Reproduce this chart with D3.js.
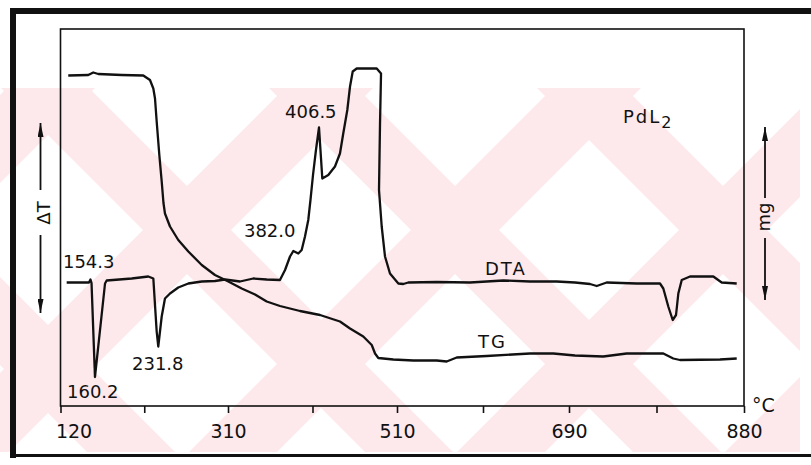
<!DOCTYPE html>
<html>
<head>
<meta charset="utf-8">
<script src="https://cdn.jsdelivr.net/npm/d3@7.9.0/dist/d3.min.js"></script>
<style>
  html, body { margin: 0; padding: 0; background: #fff; }
  svg { display: block; font-family: "DejaVu Sans", sans-serif; }
</style>
</head>
<body>
<div id="plot-container"></div>
<script>
// temperature axis (°C)
const majorTicks = [120, 310, 510, 690, 880];
const minorTicks = [215, 410, 600, 785];

// DTA trace (temperature °C, ΔT in arbitrary units)
const dtaTemp = [127.0, 152.3, 154.0, 155.2, 159.1, 170.5, 172.4, 200.8, 219.6, 225.3,
  229.1, 230.9, 234.8, 238.5, 244.2, 253.6, 265.0, 280.2, 295.2, 306.6,
  324.2, 339.9, 355.8, 371.5, 377.5, 383.4, 387.3, 393.2, 397.2, 401.1,
  405.0, 407.6, 410.6, 414.1, 417.7, 421.6, 428.7, 436.6, 442.5, 446.4,
  451.2, 454.4, 457.6, 462.3, 486.0, 491.1, 489.9, 488.7, 491.9, 495.8,
  501.7, 511.4, 516.6, 521.8, 551.5, 586.4, 621.2, 649.2, 677.1, 696.5,
  712.8, 720.1, 730.9, 763.5, 788.8, 792.4, 797.8, 802.6, 806.2, 808.7,
  812.4, 821.4, 846.7, 855.8, 872.1];
const dtaSignal = [24.7, 24.7, 25.3, 24.6, 5.8, 24.5, 25.1, 25.5, 25.9, 25.5,
  14.9, 11.9, 17.9, 21.5, 22.5, 23.7, 24.5, 24.9, 25.0, 25.3,
  24.9, 25.5, 25.3, 25.2, 27.2, 29.9, 31.0, 30.5, 31.2, 33.9,
  37.2, 41.2, 46.2, 51.2, 55.7, 45.5, 46.2, 47.9, 50.5, 54.5,
  59.2, 63.9, 66.9, 67.5, 67.5, 66.5, 56.5, 43.2, 35.9, 29.9,
  26.5, 24.5, 24.4, 24.7, 24.8, 24.7, 25.1, 24.9, 24.9, 24.7,
  24.4, 24.0, 24.7, 24.5, 24.5, 23.5, 19.9, 17.2, 18.2, 22.5,
  25.2, 25.9, 25.9, 24.7, 24.5];

// TG trace (temperature °C, mass in arbitrary units)
const tgTemp = [128.8, 151.5, 157.2, 162.9, 189.4, 213.9, 221.5, 225.3, 227.2, 229.1,
  232.1, 234.8, 236.8, 238.5, 244.2, 253.6, 265.0, 280.2, 295.2, 310.4,
  326.2, 342.0, 355.8, 371.5, 395.2, 418.9, 442.5, 454.4, 470.1, 480.1,
  484.0, 487.9, 505.6, 527.1, 551.5, 562.0, 572.5, 603.9, 649.2, 673.6,
  696.5, 727.2, 752.6, 792.4, 803.2, 810.5, 853.9, 872.1];
const tgMass = [66.1, 66.2, 66.7, 66.4, 66.2, 66.1, 65.2, 63.5, 61.5, 56.9,
  50.2, 44.9, 40.6, 38.5, 35.9, 33.2, 30.9, 28.2, 26.2, 24.9,
  23.5, 22.3, 20.9, 20.0, 19.0, 18.2, 16.9, 15.5, 13.9, 12.2,
  10.5, 9.6, 9.3, 9.1, 9.1, 8.9, 9.7, 10.0, 10.5, 10.5,
  10.1, 9.9, 10.5, 10.5, 9.5, 9.2, 9.3, 9.5];

// annotations: peak temperatures written on the thermogram
const peakLabels = ["154.3", "160.2", "231.8", "382.0", "406.5"];
const peakLabelTemp = [122.8, 127.4, 201.1, 328.9, 377.5];
const peakLabelSignal = [27.6, 1.6, 7.2, 33.8, 57.6];

const curveLabels = ["DTA", "TG"];
const curveLabelTemp = [602.1, 594.8];
const curveLabelSignal = [26.2, 11.6];

function renderPlot() {
    const width = 811;
    const height = 465;

    const svg = d3.select('#plot-container')
        .append('svg')
        .attr('width', width)
        .attr('height', height);

    const plot = { left: 60.5, right: 744, top: 29, bottom: 406 };

    // watermark of the scanned page: light pink X shapes
    svg.append('clipPath').attr('id', 'wm-clip')
        .append('rect').attr('x', 0).attr('y', 88).attr('width', 800).attr('height', 364);
    const wm = svg.append('g').attr('clip-path', 'url(#wm-clip)').attr('fill', '#fde8ec');
    const y0 = 88, y1 = 452, hw = 44, cy = 230;
    [-91, 187, 455, 723, 991].forEach(cx => {
        const a = cx - cy, b = cx + cy;
        wm.append('polygon')
            .attr('points', [[a + y0 - hw, y0], [a + y0 + hw, y0], [a + y1 + hw, y1], [a + y1 - hw, y1]].join(' '));
        wm.append('polygon')
            .attr('points', [[b - y0 - hw, y0], [b - y0 + hw, y0], [b - y1 + hw, y1], [b - y1 - hw, y1]].join(' '));
    });

    // outer border of the figure
    svg.append('rect').attr('x', 10).attr('y', 8).attr('width', 801).attr('height', 6).attr('fill', '#111');
    svg.append('rect').attr('x', 10).attr('y', 8).attr('width', 6).attr('height', 450).attr('fill', '#111');
    svg.append('rect').attr('x', 10).attr('y', 454).attr('width', 801).attr('height', 3).attr('fill', '#111');

    // scales: the printed temperature ticks are evenly spaced, so piecewise linear
    const xScale = d3.scaleLinear()
        .domain(majorTicks)
        .range([plot.left, 228, 397, 569, plot.right]);

    const yScale = d3.scaleLinear()
        .domain([0, 75.4])
        .range([plot.bottom, plot.top]);

    // frame
    svg.append('rect')
        .attr('x', plot.left)
        .attr('y', plot.top)
        .attr('width', plot.right - plot.left)
        .attr('height', plot.bottom - plot.top)
        .attr('fill', 'none')
        .attr('stroke', '#111')
        .attr('stroke-width', 1.6);

    // x axis
    const allTicks = majorTicks.concat(minorTicks).sort((a, b) => a - b);
    const xAxis = d3.axisBottom(xScale)
        .tickValues(allTicks)
        .tickSize(7)
        .tickFormat(d => majorTicks.includes(d) ? d : '');

    const axisG = svg.append('g')
        .attr('transform', `translate(0, ${plot.bottom})`)
        .call(xAxis);
    axisG.select('.domain').remove();
    axisG.selectAll('line').attr('stroke', '#111').attr('stroke-width', 1.6);
    axisG.selectAll('text')
        .attr('fill', '#111')
        .attr('font-family', '"DejaVu Sans", sans-serif')
        .attr('font-size', 19)
        .attr('y', 32)
        .attr('dy', 0)
        .attr('dx', d => d === 120 ? 13 : 0);

    // °C unit
    svg.append('text')
        .attr('x', plot.right + 8)
        .attr('y', 412)
        .attr('font-size', 19)
        .attr('fill', '#111')
        .text('°C');

    // curves
    const line = (tArr, vArr) => d3.line()
        .x(i => xScale(tArr[i]))
        .y(i => yScale(vArr[i]))(d3.range(tArr.length));

    svg.append('path')
        .attr('d', line(dtaTemp, dtaSignal))
        .attr('fill', 'none')
        .attr('stroke', '#111')
        .attr('stroke-width', 2.3)
        .attr('stroke-linejoin', 'round');

    svg.append('path')
        .attr('d', line(tgTemp, tgMass))
        .attr('fill', 'none')
        .attr('stroke', '#111')
        .attr('stroke-width', 2.3)
        .attr('stroke-linejoin', 'round');

    // labels
    svg.append('g').selectAll('text')
        .data(peakLabels)
        .enter()
        .append('text')
        .attr('x', (d, i) => xScale(peakLabelTemp[i]))
        .attr('y', (d, i) => yScale(peakLabelSignal[i]))
        .attr('font-size', 18)
        .attr('fill', '#111')
        .text(d => d);

    svg.append('g').selectAll('text')
        .data(curveLabels)
        .enter()
        .append('text')
        .attr('x', (d, i) => xScale(curveLabelTemp[i]))
        .attr('y', (d, i) => yScale(curveLabelSignal[i]))
        .attr('font-size', 18)
        .attr('letter-spacing', 2)
        .attr('fill', '#111')
        .text(d => d);

    const title = svg.append('text')
        .attr('x', xScale(748.6))
        .attr('y', yScale(56.6))
        .attr('font-size', 18)
        .attr('letter-spacing', 2)
        .attr('fill', '#111');
    title.append('tspan').text('PdL');
    title.append('tspan').attr('dy', 5).attr('font-size', 16).text('2');

    // axis arrows (ΔT on the left, mg on the right)
    svg.append('defs').append('marker')
        .attr('id', 'arrow')
        .attr('viewBox', '0 0 14 6')
        .attr('refX', 14)
        .attr('refY', 3)
        .attr('markerWidth', 14)
        .attr('markerHeight', 6)
        .attr('markerUnits', 'userSpaceOnUse')
        .attr('orient', 'auto')
        .append('path')
        .attr('d', 'M0,0L14,3L0,6Z')
        .attr('fill', '#111');

    const arrows = [
        [40.5, 190, 123], [40.5, 235, 313],
        [765, 198, 127], [765, 238, 300]
    ];
    arrows.forEach(a => {
        svg.append('line')
            .attr('x1', a[0]).attr('x2', a[0])
            .attr('y1', a[1]).attr('y2', a[2])
            .attr('stroke', '#111')
            .attr('stroke-width', 1.8)
            .attr('marker-end', 'url(#arrow)');
    });

    svg.append('text')
        .attr('transform', 'translate(50, 213) rotate(-90)')
        .attr('text-anchor', 'middle')
        .attr('font-size', 18)
        .attr('fill', '#111')
        .text('ΔT');

    svg.append('text')
        .attr('transform', 'translate(770, 217) rotate(-90)')
        .attr('text-anchor', 'middle')
        .attr('font-size', 18)
        .attr('fill', '#111')
        .text('mg');
}

renderPlot();
</script>
</body>
</html>
